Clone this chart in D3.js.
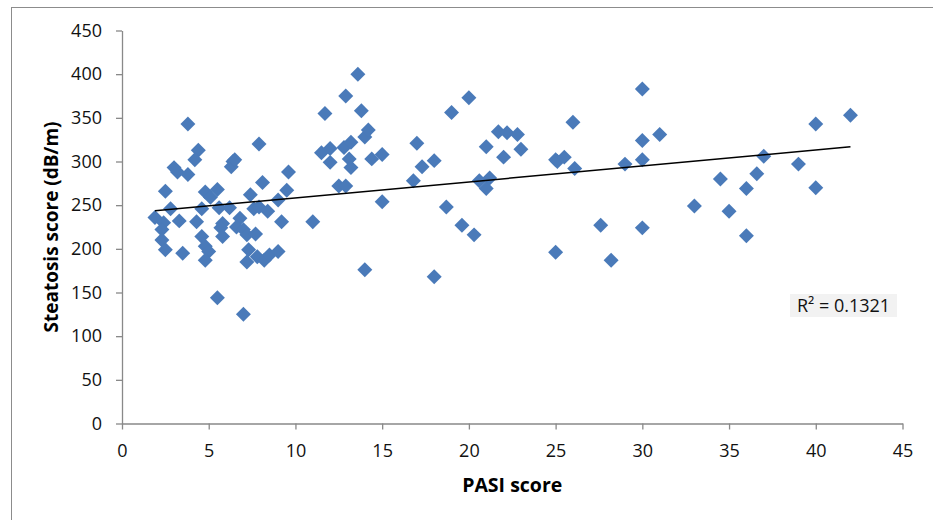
<!DOCTYPE html>
<html>
<head>
<meta charset="utf-8">
<script src="https://cdn.jsdelivr.net/npm/d3@7/dist/d3.min.js"></script>
<style>
  body { margin: 0; background: #fff; }
  text { font-family: "Open Sans", sans-serif; }
</style>
</head>
<body>
<div id="chart"></div>
<script>
/** Data */
const pasi = [
  1.9, 2.5, 2.8, 2.4, 2.3, 2.3, 2.5, 3.0, 3.2, 3.8, 3.8, 3.3, 3.5, 4.4, 4.2, 4.3,
  4.6, 4.8, 5.5, 5.1, 5.6, 5.8, 5.7, 5.8, 6.2, 6.4, 6.3, 6.5, 6.8, 6.6, 7.0, 4.6,
  4.8, 5.0, 4.8, 5.5, 7.0, 7.4, 7.6, 7.9, 7.9, 8.1, 8.4, 7.2, 7.7, 7.3, 7.2, 7.8,
  8.2, 8.5, 9.0, 9.0, 9.5, 9.6, 9.2, 11.0,
  11.7, 11.5, 12.0, 12.0, 12.5, 12.9, 12.9, 13.6, 13.8, 12.8, 13.2, 13.1, 13.2,
  14.0, 14.2, 14.4, 15.0, 15.0, 14.0, 17.0, 16.8, 17.3, 18.0, 18.0, 18.7, 19.0,
  20.0, 19.6, 20.3, 20.6, 21.0, 21.2, 21.0, 21.7, 22.2, 22.0, 22.8, 23.0,
  25.0, 25.1, 25.5, 26.1, 26.0, 25.0, 27.6, 28.2, 29.0, 30.0, 30.0, 30.0, 30.0,
  31.0, 33.0, 34.5, 35.0, 36.0, 36.0, 36.6, 37.0, 39.0, 40.0, 40.0, 42.0,
];
const steatosis = [
  236, 266, 246, 230, 222, 210, 199, 293, 288, 343, 285, 232, 195, 313, 302, 231,
  246, 265, 268, 259, 247, 229, 224, 214, 247, 300, 294, 302, 235, 225, 222, 214,
  203, 197, 187, 144, 125, 262, 246, 248, 320, 276, 243, 216, 217, 199, 185, 191,
  187, 193, 197, 256, 267, 288, 231, 231,
  355, 310, 315, 299, 272, 272, 375, 400, 358, 316, 322, 303, 293,
  328, 336, 303, 308, 254, 176, 321, 278, 294, 301, 168, 248, 356,
  373, 227, 216, 278, 269, 281, 317, 334, 333, 305, 331, 314,
  302, 300, 305, 292, 345, 196, 227, 187, 297, 383, 324, 302, 224,
  331, 249, 280, 243, 269, 215, 286, 306, 297, 343, 270, 353,
];
const xTicks = [0, 5, 10, 15, 20, 25, 30, 35, 40, 45];
const yTicks = [0, 50, 100, 150, 200, 250, 300, 350, 400, 450];
const trendIntercept = 240;
const trendSlope = 1.83;
const r2Label = "R² = 0.1321";

/** Graph configs */
const W = 933, H = 520;
const margin = { top: 30.5, left: 122, right: 30.5, bottom: 96.5 };
const axisColor = "#898989";
const markerColor = "#4a7ab9";

const svg = d3.select("#chart").append("svg")
  .attr("width", W).attr("height", H);

// outer frame (only left and top edges visible)
svg.append("rect")
  .attr("x", 11.5).attr("y", 7.5)
  .attr("width", 1000).attr("height", 600)
  .attr("fill", "none").attr("stroke", "#8c8c8c");

const xScale = d3.scaleLinear().domain([0, 45]).range([margin.left, W - margin.right]);
const yScale = d3.scaleLinear().domain([0, 450]).range([H - margin.bottom, margin.top]);

const xAxis = d3.axisBottom(xScale).tickValues(xTicks).tickSize(6).tickSizeOuter(0).tickPadding(15);
const yAxis = d3.axisLeft(yScale).tickValues(yTicks).tickSize(6).tickSizeOuter(0).tickPadding(14);

const gx = svg.append("g")
  .attr("transform", `translate(0,${yScale(0)})`)
  .call(xAxis);
const gy = svg.append("g")
  .attr("transform", `translate(${xScale(0)},0)`)
  .call(yAxis);

[gx, gy].forEach((g) => {
  g.selectAll("path, line").attr("stroke", axisColor).attr("stroke-width", 1.3);
  g.selectAll("text").attr("fill", "#111").style("font-size", "18px")
    .style("font-family", "'Open Sans', sans-serif");
});

/** Points */
const points = pasi.map((x, i) => ({ x, y: steatosis[i] }));
const diamond = d3.symbol(d3.symbolSquare, 112);

svg.append("g")
  .selectAll("path")
  .data(points)
  .enter()
  .append("path")
  .attr("d", diamond)
  .attr("transform", (d) => `translate(${xScale(d.x)},${yScale(d.y)}) rotate(45)`)
  .attr("fill", markerColor);

/** Linear trend line */
const [xMin, xMax] = d3.extent(pasi);
svg.append("line")
  .attr("x1", xScale(xMin)).attr("y1", yScale(trendIntercept + trendSlope * xMin))
  .attr("x2", xScale(xMax)).attr("y2", yScale(trendIntercept + trendSlope * xMax))
  .attr("stroke", "#000").attr("stroke-width", 1.5);

/** R² label */
svg.append("rect")
  .attr("x", 790).attr("y", 294)
  .attr("width", 107).attr("height", 23)
  .attr("fill", "#f2f2f2");
svg.append("text")
  .attr("x", 843.5).attr("y", 312)
  .attr("text-anchor", "middle")
  .style("font-size", "18px")
  .attr("fill", "#111")
  .text(r2Label);

/** Axis titles */
svg.append("text")
  .attr("x", (xScale(0) + xScale(45)) / 2).attr("y", 492)
  .attr("text-anchor", "middle")
  .style("font-size", "19.5px").style("font-weight", "bold")
  .text("PASI score");

svg.append("text")
  .attr("transform", `translate(58,${yScale(225)}) rotate(-90)`)
  .attr("text-anchor", "middle")
  .style("font-size", "19px").style("font-weight", "bold")
  .text("Steatosis score (dB/m)");
</script>
</body>
</html>
